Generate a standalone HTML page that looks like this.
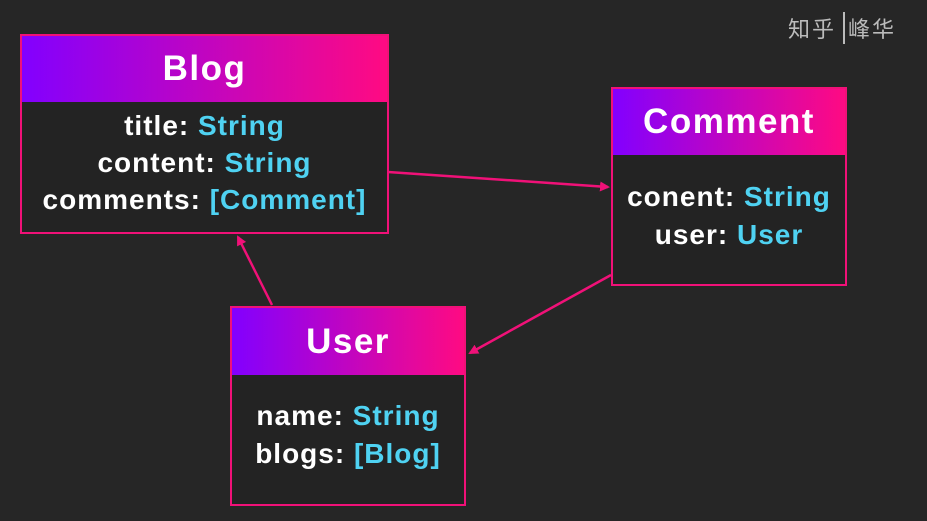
<!DOCTYPE html>
<html><head><meta charset="utf-8"><style>
body{margin:0;width:927px;height:521px;background:#262626;position:relative;overflow:hidden;font-family:"Liberation Sans",sans-serif;font-weight:bold}
.box{position:absolute;border:2px solid #f01178;background:#232323;box-sizing:border-box}
.hd{background:linear-gradient(90deg,#8200ff,#ff0a82);color:#fff;font-size:35px;letter-spacing:1.5px;text-align:center;display:flex;align-items:center;justify-content:center}
.ln{position:absolute;left:0;right:0;text-align:center;color:#fff;font-size:28px;letter-spacing:1px;line-height:30px}
.t{color:#4fd2f2}
.wm{position:absolute;left:788px;top:12px;color:#bbb;font-size:22px;font-family:"Noto Sans CJK SC",sans-serif;font-weight:normal;letter-spacing:2px}
</style></head><body>
<svg width="927" height="521" style="position:absolute;left:0;top:0">
<defs><marker id="a" markerWidth="10" markerHeight="10" refX="8" refY="5" orient="auto" markerUnits="userSpaceOnUse"><path d="M0,0 L10,5 L0,10 Z" fill="#f01178"/></marker></defs>
<g stroke="#f01178" stroke-width="2.5" fill="none">
<line x1="388" y1="172" x2="608" y2="187" marker-end="url(#a)"/>
<line x1="611" y1="275" x2="470" y2="353" marker-end="url(#a)"/>
<line x1="272" y1="305" x2="238" y2="237" marker-end="url(#a)"/>
</g></svg>
<div class="box" style="left:20px;top:34px;width:369px;height:200px">
<div class="hd" style="height:66px">Blog</div>
<div class="ln" style="top:75px">title: <span class="t">String</span></div>
<div class="ln" style="top:112px">content: <span class="t">String</span></div>
<div class="ln" style="top:149px">comments: <span class="t">[Comment]</span></div>
</div>
<div class="box" style="left:611px;top:87px;width:236px;height:199px">
<div class="hd" style="height:66px">Comment</div>
<div class="ln" style="top:93px">conent: <span class="t">String</span></div>
<div class="ln" style="top:131px">user: <span class="t">User</span></div>
</div>
<div class="box" style="left:230px;top:306px;width:236px;height:200px">
<div class="hd" style="height:67px">User</div>
<div class="ln" style="top:93px">name: <span class="t">String</span></div>
<div class="ln" style="top:131px">blogs: <span class="t">[Blog]</span></div>
</div>
<div class="wm">知乎 <span style="border-left:2px solid #bbb;padding-left:3px">峰华</span></div>
</body></html>
